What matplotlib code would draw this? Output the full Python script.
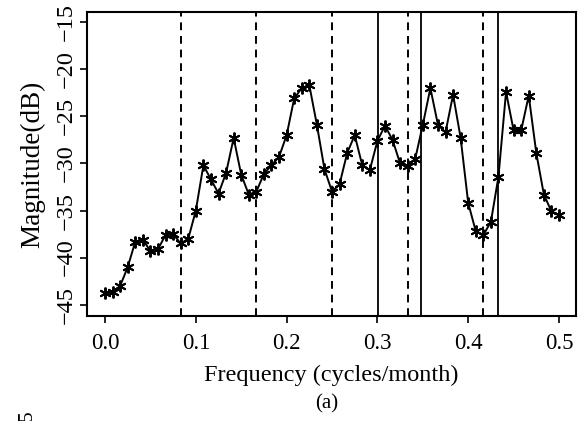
import numpy as np
import matplotlib
matplotlib.use("Agg")
import matplotlib.pyplot as plt

# spectrum values, one per 1/120 cycles/month
freq_step = 1.0 / 120
magnitude = [
    -43.8, -43.7, -43.0, -41.0, -38.3, -38.1, -39.3, -39.1, -37.6, -37.5,
    -38.5, -38.0, -35.0, -30.2, -31.7, -33.2, -31.0, -27.3, -31.2, -33.3,
    -33.0, -31.1, -30.2, -29.3, -27.0, -23.1, -22.0, -21.7, -25.9, -30.6,
    -33.0, -32.2, -28.9, -27.0, -30.2, -30.7, -27.6, -26.0, -27.5, -30.0,
    -30.3, -29.5, -25.9, -22.0, -25.9, -26.7, -22.7, -27.3, -34.2, -37.2,
    -37.6, -36.2, -31.4, -22.4, -26.5, -26.5, -22.8, -28.9, -33.3, -35.1,
    -35.5,
]
freq = np.arange(len(magnitude)) * freq_step

harmonics = [1 / 12, 2 / 12, 3 / 12, 4 / 12, 5 / 12]   # dashed
other_lines = [0.301, 0.348, 0.433]                      # solid

xticks = [0.0, 0.1, 0.2, 0.3, 0.4, 0.5]
xtick_labels = ["0.0", "0.1", "0.2", "0.3", "0.4", "0.5"]
yticks = [-45, -40, -35, -30, -25, -20, -15]
ytick_labels = ["\u221245", "\u221240", "\u221235", "\u221230", "\u221225", "\u221220", "\u221215"]

plt.rcParams["font.family"] = ["Liberation Serif", "DejaVu Serif"]
plt.rcParams["font.size"] = 15

fig = plt.figure(figsize=(5.78, 4.21), dpi=100)
ax = fig.add_axes([0.150, 0.2494, 0.8465, 0.7226])

for f in harmonics:
    ax.axvline(f, color="black", lw=1.4, linestyle=(0, (4, 3)))
for f in other_lines:
    ax.axvline(f, color="black", lw=1.3)

ax.plot(freq, magnitude, color="black", lw=1.4,
        marker=(6, 2, 0), markersize=8.5, markeredgewidth=1.4)

ax.set_xlim(-0.0202, 0.5187)
ax.set_ylim(-46.2, -13.9)
ax.set_xticks(xticks)
ax.set_xticklabels(xtick_labels, fontsize=16.5)
ax.set_yticks(yticks)
ax.set_yticklabels(ytick_labels, rotation=90, va="center", fontsize=17.5)

ax.tick_params(direction="out", length=5, width=1.2)
ax.tick_params(axis="x", pad=7)
ax.tick_params(axis="y", pad=2)
for s in ax.spines.values():
    s.set_linewidth(1.5)

ax.set_xlabel("Frequency (cycles/month)", fontsize=17.5, labelpad=8)
ax.set_ylabel("Magnitude(dB)", fontsize=19.5, labelpad=8)
fig.text(0.566, 1 - 404 / 421, "(a)", ha="center", va="center", fontsize=15)
# top of the next panel's tick label, cut off by the page edge
fig.text(27 / 578, 1 - 409 / 421, "\u221215", rotation=90, ha="center", va="top", fontsize=15)

fig.savefig("out.png", dpi=100)
